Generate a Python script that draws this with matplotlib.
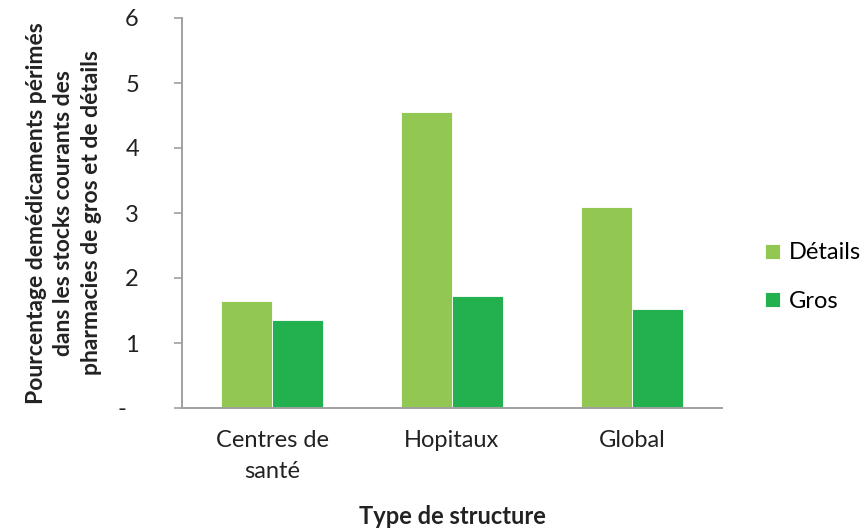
import matplotlib.pyplot as plt
import numpy as np

plt.rcParams['font.family'] = ['Lato', 'DejaVu Sans']

categories = ['Centres de\nsanté', 'Hopitaux', 'Global']
details = [1.64, 4.55, 3.09]
gros = [1.35, 1.72, 1.53]
yticks = [0, 1, 2, 3, 4, 5, 6]
ytick_labels = ['-  ', '1', '2', '3', '4', '5', '6']

W, H = 864, 528
fig = plt.figure(figsize=(W / 100, H / 100), dpi=100)
ax = fig.add_axes([182 / W, 1 - 408 / H, (722 - 182) / W, (408 - 18) / H])

x = np.arange(len(categories))
w = 0.286
ax.bar(x - w / 2, details, w, color='#92C852', edgecolor='white', linewidth=0.6, label='Détails')
ax.bar(x + w / 2, gros, w, color='#23B04F', edgecolor='white', linewidth=0.6, label='Gros')

ax.set_xlim(-0.5, len(categories) - 0.5)
ax.set_ylim(0, 6)
ax.set_yticks(yticks)
ax.set_yticklabels(ytick_labels, fontsize=17, color='#222222')
ax.set_xticks(x)
ax.set_xticklabels(categories, fontsize=17, color='#222222', linespacing=1.55)
ax.tick_params(axis='x', length=0, pad=16)
ax.tick_params(axis='y', length=6, color='#A0A0A0', width=1.2, pad=25)

for s in ['top', 'right']:
    ax.spines[s].set_visible(False)
for s in ['left', 'bottom']:
    ax.spines[s].set_color('#A0A0A0')
    ax.spines[s].set_linewidth(1.4)

fig.text(452 / W, 1 - 517 / H, 'Type de structure', fontsize=17, fontweight='bold',
         color='#222222', ha='center', va='center')
fig.text(64 / W, 1 - 213 / H,
         'Pourcentage demédicaments périmés\ndans les stocks courants des\npharmacies de gros et de détails',
         fontsize=16.5, fontweight='bold', color='#222222', rotation=90,
         ha='center', va='center', multialignment='center', linespacing=1.4)

ax.legend(loc='center left', bbox_to_anchor=(756 / W, 1 - 277 / H), bbox_transform=fig.transFigure,
          borderaxespad=0, frameon=False, fontsize=17,
          handlelength=0.6, handleheight=0.6, labelspacing=1.15, handletextpad=0.4)

fig.savefig('out.png', dpi=100)
